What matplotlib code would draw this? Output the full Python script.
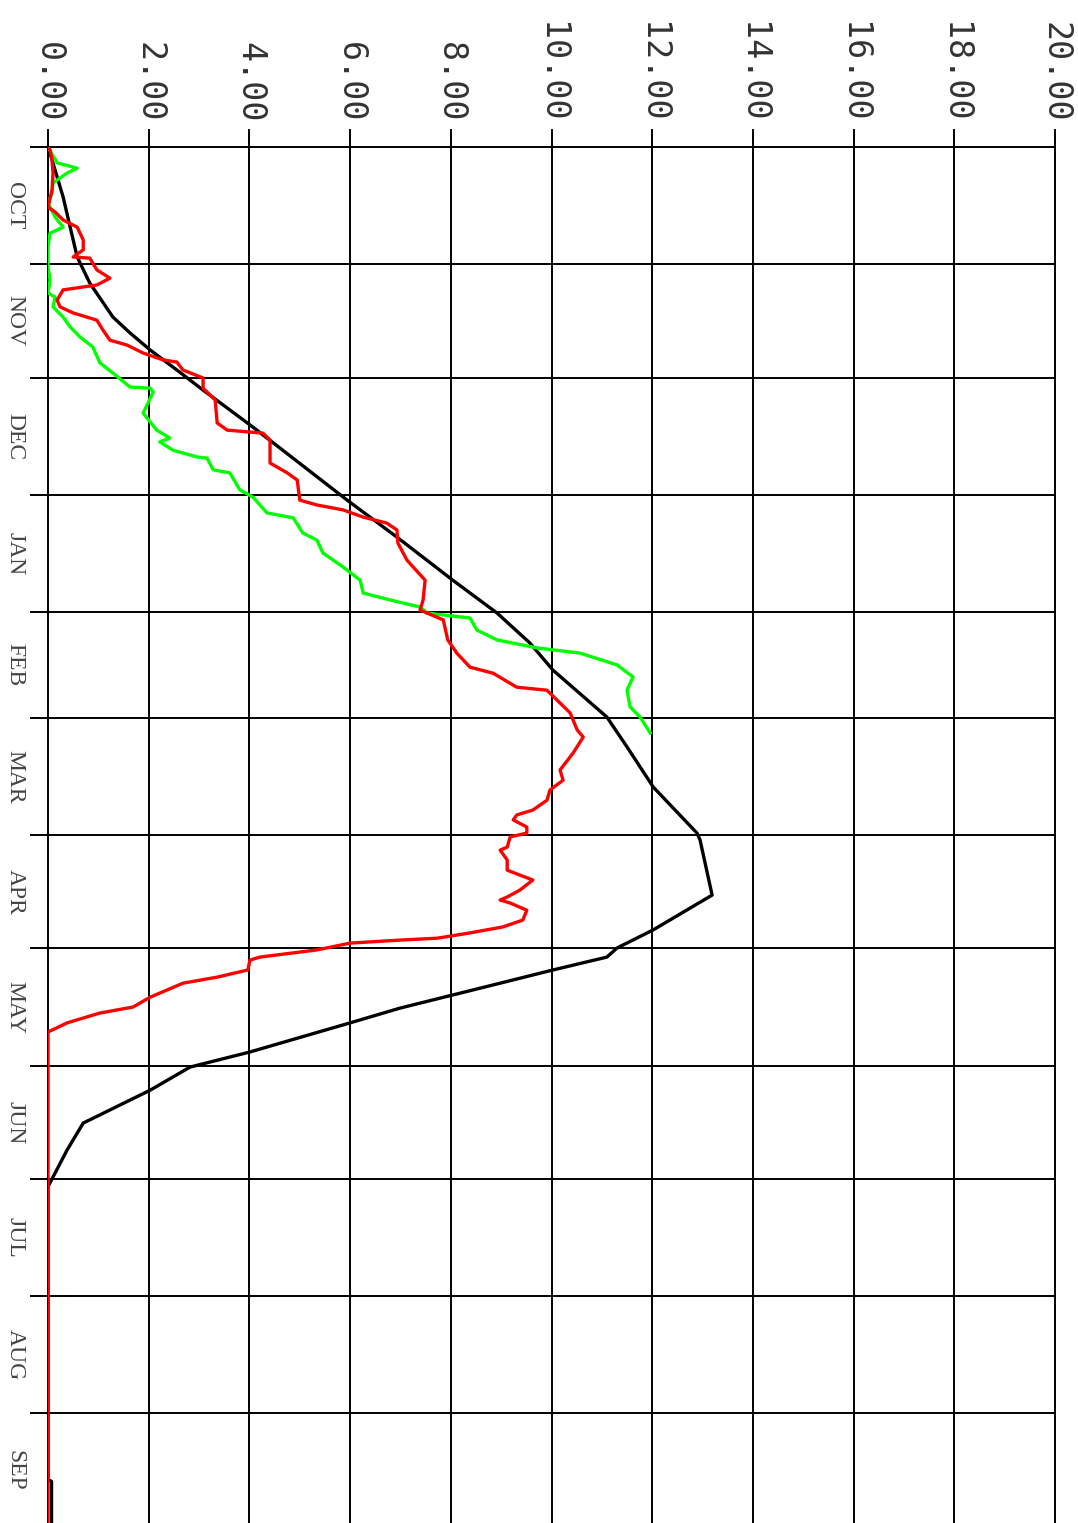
import matplotlib.pyplot as plt

# days since Oct 1, values in inches
months = ["OCT", "NOV", "DEC", "JAN", "FEB", "MAR", "APR", "MAY", "JUN", "JUL", "AUG", "SEP"]
month_start = [0, 31, 61, 92, 123, 151, 182, 212, 243, 273, 304, 335]
month_len = [31, 30, 31, 31, 28, 31, 30, 31, 30, 31, 31, 30]
value_ticks = [0, 2, 4, 6, 8, 10, 12, 14, 16, 18, 20]

median_day = [0, 1.6, 6.1, 13.2, 21.2, 29.1, 36.0, 45.0, 49.2, 53.7, 59.0, 64.3, 74.1, 93.4,
              103.2, 114.6, 123.3, 131.2, 138.4, 150.8, 158.7, 169.3, 181.5, 183.3, 197.9,
              207.1, 211.9, 214.3, 217.7, 221.2, 227.8, 231.7, 239.4, 243.4, 249.5, 258.2,
              265.3, 274.0, 275, 352.5, 353, 364]
median_val = [0.02, 0.04, 0.14, 0.30, 0.44, 0.58, 0.83, 1.29, 1.63, 2.03, 2.56, 3.08, 4.07, 5.94,
              6.93, 8.04, 8.92, 9.57, 10.03, 11.10, 11.50, 12.02, 12.89, 12.95, 13.19,
              12.02, 11.30, 11.10, 10.03, 8.98, 6.99, 6.00, 4.01, 2.82, 2.03, 0.70,
              0.38, 0.04, 0.0, 0.0, 0.07, 0.07]

current_day = [0, 0.8, 3.4, 6.9, 11.4, 15.9, 17.2, 19.3, 21.2, 24.6, 27.2, 29.1, 29.4, 32.5,
               34.7, 36.5, 37.8, 40.5, 42.3, 43.9, 45.8, 48.4, 51.1, 52.4, 54.5, 56.3, 56.9,
               59.0, 61.1, 63.8, 66.9, 73.0, 74.9, 75.7, 77.5, 83.6, 86.2, 88.1, 93.4, 94.7,
               96.0, 97.9, 99.5, 101.3, 104.8, 109.3, 114.6, 119.8, 122.5, 125.1, 130.4,
               133.9, 137.6, 139.2, 142.9, 143.7, 146.3, 149.7, 154.2, 156.1, 160.3, 164.8,
               167.5, 170.1, 172.8, 175.4, 176.7, 178.0, 179.9, 181.5, 182.5, 185.2, 186.0,
               188.6, 191.3, 192.6, 193.9, 196.6, 198.4, 199.2, 200.0, 201.9, 204.5, 206.3,
               207.9, 209.3, 209.8, 210.6, 212.4, 214.3, 215.1, 217.7, 219.6, 221.2, 224.9,
               227.5, 229.1, 231.7, 234.1, 364]
current_val = [0, 0.04, 0.08, 0.10, 0.08, 0.0, 0.14, 0.30, 0.58, 0.70, 0.70, 0.50, 0.83, 0.97,
               1.23, 0.97, 0.30, 0.18, 0.24, 0.50, 0.97, 1.09, 1.23, 1.57, 1.89, 2.28, 2.56,
               2.68, 3.08, 3.08, 3.32, 3.36, 3.56, 4.27, 4.41, 4.41, 4.75, 4.95, 5.00, 5.34,
               5.86, 6.26, 6.73, 6.93, 6.95, 7.13, 7.49, 7.45, 7.39, 7.85, 7.94,
               8.12, 8.38, 8.84, 9.31, 9.91, 10.11, 10.37, 10.51, 10.63, 10.43, 10.17,
               10.23, 9.97, 9.91, 9.63, 9.31, 9.24, 9.51, 9.51, 9.18, 9.12, 8.98,
               9.12, 9.12, 9.37, 9.63, 9.37, 9.12, 8.98, 9.18, 9.51, 9.43, 9.04,
               8.38, 7.73, 6.99, 6.00, 5.34, 4.21, 4.01, 3.97, 3.36, 2.68, 2.03,
               1.69, 1.03, 0.38, 0.0, 0.0]

other_day = [0, 4.2, 5.6, 6.9, 9.5, 12.2, 14.8, 18.5, 21.2, 22.8, 26.5, 31.7, 35.2, 38.6, 39.7,
             42.3, 45.0, 47.6, 50.3, 52.9, 57.1, 59.8, 63.5, 63.8, 64.8, 70.4, 74.9, 77.0,
             78.0, 80.2, 82.0, 82.3, 85.4, 86.2, 90.7, 92.6, 96.8, 98.1, 102.1, 104.0,
             107.4, 111.1, 114.6, 118.0, 119.8, 121.7, 123.3, 124.6, 127.8, 130.4, 132.5,
             133.9, 137.0, 140.2, 143.7, 148.1, 150.8, 155.0]
other_val = [0, 0.18, 0.58, 0.38, 0.10, 0.08, 0.0, 0.14, 0.30, 0.04, 0.0, 0.0, 0.04, 0.0, 0.14,
             0.10, 0.30, 0.44, 0.64, 0.89, 1.03, 1.29, 1.63, 2.03, 2.09, 1.89, 2.16, 2.42,
             2.22, 2.48, 2.96, 3.16, 3.28, 3.61, 3.81, 4.07, 4.35, 4.87, 5.06, 5.34,
             5.46, 5.86, 6.20, 6.26, 6.79, 7.39, 7.53, 8.38, 8.52, 8.92, 9.71,
             10.57, 11.30, 11.62, 11.50, 11.56, 11.76, 11.96]

fig = plt.figure(figsize=(10.78, 15.23), dpi=100)
ax = fig.add_axes([48 / 1078, 0, 1007 / 1078, 1 - 147 / 1523])
ax.set_xlim(0, 20)
ax.set_ylim(364.0, 0)
ax.axis("off")

# grid: vertical lines poke above the top edge, month lines poke left of zero
for v in value_ticks:
    ax.plot([v, v], [-4.5, 364], color="black", lw=1.4, clip_on=False, zorder=1)
    ax.text(v, -6.5, f"{v:.2f}", rotation=-90, ha="center", va="bottom",
            family="DejaVu Sans Mono", fontsize=24, color="#333333")
for d in month_start:
    ax.plot([-0.34, 20], [d, d], color="black", lw=1.4, clip_on=False, zorder=1)

for m, d, n in zip(months, month_start, month_len):
    ax.text(-0.66, d + n / 2, m, rotation=-90, ha="center", va="center",
            family="Liberation Serif", fontsize=17, color="#444444")

ax.plot(median_val, median_day, color="black", lw=2.4, zorder=3)
ax.plot(other_val, other_day, color="#00ff00", lw=2.4, zorder=4)
ax.plot(current_val, current_day, color="#ff0000", lw=2.4, zorder=5)

fig.savefig("out.png", dpi=100)
